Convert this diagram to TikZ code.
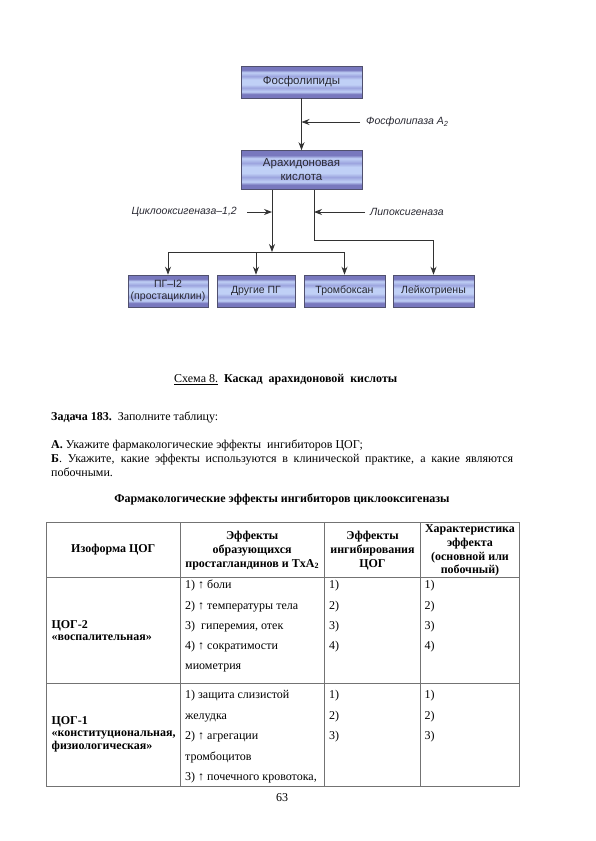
\documentclass[tikz,border=0pt]{standalone}
\usepackage{fontspec}
\setmainfont{Liberation Serif}
\newfontfamily\diagfont{Liberation Sans}
\usetikzlibrary{arrows.meta,positioning}

\definecolor{boxdark}{RGB}{120,120,190}
\definecolor{boxmid}{RGB}{156,164,222}
\definecolor{boxlight}{RGB}{192,208,246}
\definecolor{boxedge}{RGB}{80,80,110}
\definecolor{linegray}{RGB}{50,50,50}
\definecolor{textgray}{RGB}{40,40,50}
\definecolor{rulegray}{RGB}{115,115,115}

% stripes of the scheme boxes (visible part 25bp..75bp)
\pgfdeclareverticalshading{boxstripes}{100bp}{color(0bp)=(boxdark); color(25bp)=(boxdark); color(31bp)=(boxdark); color(35bp)=(boxlight); color(41bp)=(boxmid); color(46bp)=(boxlight); color(54bp)=(boxlight); color(59bp)=(boxmid); color(65bp)=(boxlight); color(69bp)=(boxdark); color(75bp)=(boxdark); color(100bp)=(boxdark)}

\tikzset{
  schemebox/.style={draw=boxedge, line width=0.6pt, shading=boxstripes, text=textgray,
    align=center, inner sep=0pt, font=\diagfont\fontsize{11.5}{14}\selectfont},
  prodbox/.style={schemebox, minimum height=32pt, font=\diagfont\fontsize{10.5}{12.5}\selectfont},
  enzyme/.style={inner sep=0pt, text=textgray, font=\diagfont\itshape\fontsize{10.5}{12}\selectfont},
  flow/.style={draw=linegray, line width=0.8pt, -{Stealth[length=8pt,width=6pt]}},
  plain/.style={draw=linegray, line width=0.8pt},
  txt/.style={inner sep=0pt, anchor=west, text height=8pt, text depth=2.5pt, font=\fontsize{12}{13.8}\selectfont},
  head/.style={inner sep=0pt, align=center, font=\bfseries\fontsize{12}{13.8}\selectfont},
  rowhead/.style={inner sep=0pt, anchor=west, align=left, font=\bfseries\fontsize{12}{12.6}\selectfont},
  rule/.style={draw=rulegray, line width=0.9pt}
}

\begin{document}
\begin{tikzpicture}[x=1pt,y=-1pt]
\useasboundingbox (0,0) rectangle (595,841);

% scheme
\node[schemebox, minimum width=121pt, minimum height=32pt] (phos) at (301.5,82) {Фосфолипиды};
\node[schemebox, minimum width=121pt, minimum height=39pt] (arach) at (301.5,170) {Арахидоновая\\кислота};
\node[prodbox, minimum width=80pt] (pgi) at (168,291) {ПГ–I2\\(простациклин)};
\node[prodbox, minimum width=78pt] (other) at (256,291) {Другие ПГ};
\node[prodbox, minimum width=81pt] (tx) at (344.5,291) {Тромбоксан};
\node[prodbox, minimum width=81pt] (lt) at (433.5,291) {Лейкотриены};

\draw[flow] (phos) -- (arach);
\node[enzyme, anchor=west] (pla) at (366,122) {Фосфолипаза А\textsubscript{2}};
\draw[flow] ([xshift=-6pt]pla.west) -- (pla -| phos.south);

% cyclooxygenase branch
\coordinate (split) at (272,252);
\draw[flow] (arach.south -| split) -- (split);
\draw[plain] (pgi.north |- split) -- (tx.north |- split);
\foreach \p in {pgi,other,tx}
  \draw[flow] (\p.north |- split) -- (\p.north);
\node[enzyme, anchor=east] (cox) at (237,212) {Циклооксигеназа–1,2};
\draw[flow] ([xshift=10pt]cox.east) -- (cox -| split);

% lipoxygenase branch
\coordinate (bend) at (314,240);
\draw[flow] (arach.south -| bend) -- (bend) -| (lt.north);
\node[enzyme, anchor=west] (lox) at (370,212) {Липоксигеназа};
\draw[flow] ([xshift=-5pt]lox.west) -- (lox -| bend);

% caption and task
\node[txt] (caption) at (174,380) {\underline{Схема 8.}\ \ \textbf{Каскад\ \ арахидоновой\ \ кислоты}};
\node[txt] (task) at (51,418) {\textbf{Задача 183.}\ \ Заполните таблицу:};
\node[txt] (parta) at (51,446) {\textbf{А.} Укажите фармакологические эффекты\ \ ингибиторов ЦОГ;};
\node[txt] (partb) at (51,460) {\makebox[462pt][s]{\textbf{Б}. Укажите, какие эффекты используются в клинической практике, а какие являются}};
\node[txt] (partb2) at (51,474) {побочными.};
\node[txt, anchor=center, font=\bfseries\fontsize{12}{13.8}\selectfont] (title) at (282,500) {Фармакологические эффекты ингибиторов циклооксигеназы};

% table
\draw[rule] (46.7,522.3) rectangle (519.3,786);
\draw[rule] (46.7,577) -- (519.3,577);
\draw[rule] (46.7,683) -- (519.3,683);
\foreach \cx in {180,324.5,420.5}
  \draw[rule] (\cx,522.3) -- (\cx,786);

\node[head] (hiso) at (113.3,550) {Изоформа ЦОГ};
\node[head] (heff) at (252.2,550.5) {Эффекты\\образующихся\\простагландинов и TxA\textsubscript{2}};
\node[head] (hinh) at (372.5,550.5) {Эффекты\\ингибирования\\ЦОГ};
\node[head] (hchar) at (470,550.5) {Характеристика\\эффекта\\(основной или\\побочный)};

\node[rowhead] (cox2) at (51.5,630.5) {ЦОГ-2\\«воспалительная»};
\node[rowhead] (cox1) at (51.5,734) {ЦОГ-1\\«конституциональная,\\физиологическая»};

\foreach \t [count=\i from 0] in {1) ↑ боли, 2) ↑ температуры тела, 3)\ \ гиперемия{,} отек, 4) ↑ сократимости, миометрия}
  \node[txt] (effa\i) at (185,586+20.3*\i) {\t};
\foreach \t [count=\i from 0] in {1) защита слизистой, желудка, 2) ↑ агрегации, тромбоцитов, 3) ↑ почечного кровотока{,}}
  \node[txt] (effb\i) at (185,696+20.5*\i) {\t};
\foreach \i in {1,...,4}{
  \node[txt] (inha\i) at (329,586+20.3*\i-20.3) {\i)};
  \node[txt] (chara\i) at (424.5,586+20.3*\i-20.3) {\i)};
}
\foreach \i in {1,...,3}{
  \node[txt] (inhb\i) at (329,696+20.5*\i-20.5) {\i)};
  \node[txt] (charb\i) at (424.5,696+20.5*\i-20.5) {\i)};
}

\node[txt, anchor=center] (page) at (282,799) {63};
\end{tikzpicture}
\end{document}
